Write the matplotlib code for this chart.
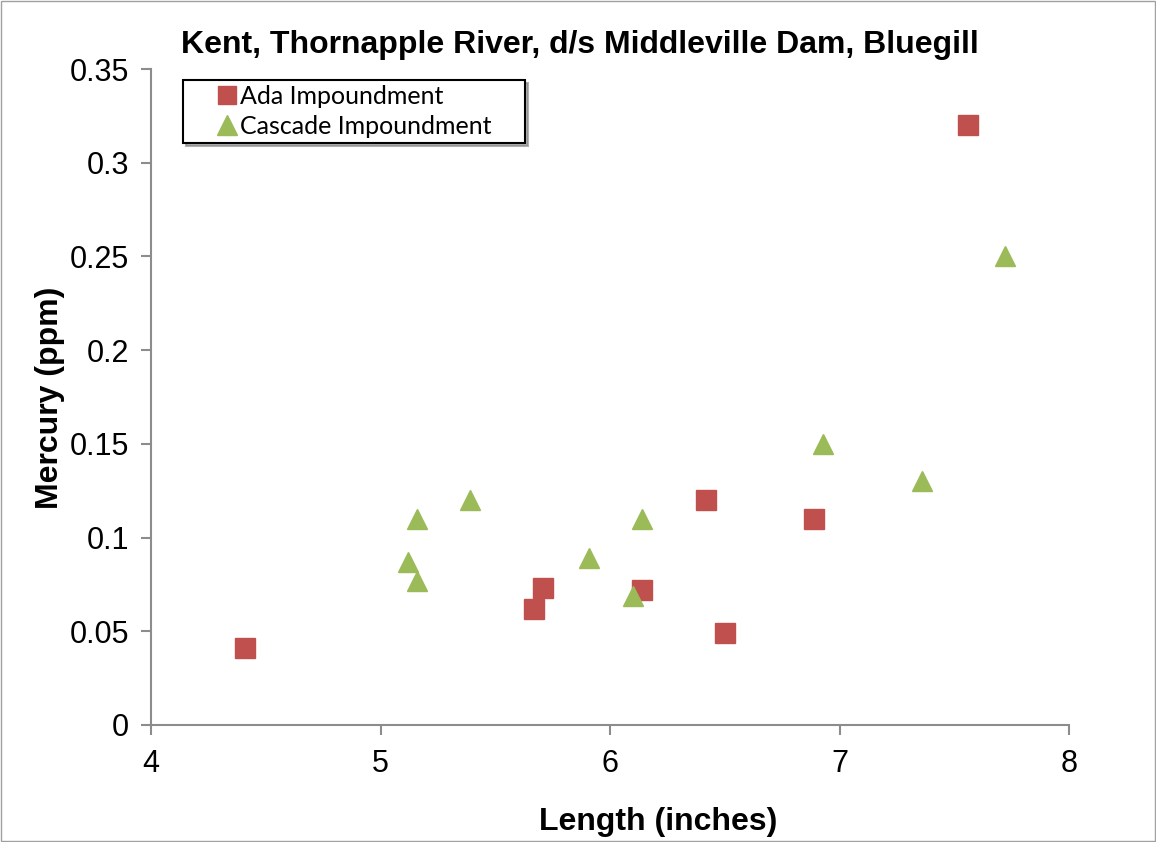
import matplotlib
matplotlib.use("Agg")
import matplotlib.pyplot as plt
from matplotlib.patches import Rectangle

# Bluegill mercury vs. length, two impoundments
ada_length = [4.41, 5.67, 5.71, 6.14, 6.42, 6.50, 6.89, 7.56]
ada_mercury = [0.041, 0.062, 0.073, 0.072, 0.120, 0.049, 0.110, 0.320]

cascade_length = [5.12, 5.16, 5.16, 5.39, 5.91, 6.10, 6.14, 6.93, 7.36, 7.72]
cascade_mercury = [0.087, 0.077, 0.110, 0.120, 0.089, 0.069, 0.110, 0.150, 0.130, 0.250]

x_ticks = [4, 5, 6, 7, 8]
y_ticks = [0, 0.05, 0.1, 0.15, 0.2, 0.25, 0.3, 0.35]
y_tick_labels = ["0", "0.05", "0.1", "0.15", "0.2", "0.25", "0.3", "0.35"]

plt.rcParams["font.family"] = ["Liberation Sans", "DejaVu Sans"]

W, H = 1156, 842
fig = plt.figure(figsize=(W / 100, H / 100), dpi=100)
ax_left, ax_right, ax_top, ax_bottom = 151, 1069, 69, 725
ax_w, ax_h = ax_right - ax_left, ax_bottom - ax_top
ax = fig.add_axes([ax_left / W, 1 - ax_bottom / H, ax_w / W, ax_h / H])

red = "#C0504D"
green = "#9BBB59"

ax.plot(ada_length, ada_mercury, linestyle="none", marker="s", markersize=14,
        color=red, markeredgecolor=red, label="Ada Impoundment", zorder=3)
ax.plot(cascade_length, cascade_mercury, linestyle="none", marker="^", markersize=15,
        color=green, markeredgecolor=green, label="Cascade Impoundment", zorder=3)

ax.set_xlim(4, 8)
ax.set_ylim(0, 0.35)
ax.set_xticks(x_ticks)
ax.set_yticks(y_ticks)
ax.set_yticklabels(y_tick_labels)

for side in ("top", "right"):
    ax.spines[side].set_visible(False)
for side in ("left", "bottom"):
    ax.spines[side].set_color("#8C8C8C")
    ax.spines[side].set_linewidth(1.5)

ax.tick_params(axis="both", direction="out", length=7, width=1.5, color="#8C8C8C",
               labelsize=22)
ax.tick_params(axis="y", pad=9)
ax.tick_params(axis="x", pad=10)

ax.set_xlabel("Length (inches)", fontsize=23, fontweight="bold")
ax.set_ylabel("Mercury (ppm)", fontsize=23, fontweight="bold")
ax.xaxis.set_label_coords((658 - ax_left) / ax_w, (ax_bottom - 822) / ax_h)
ax.yaxis.set_label_coords((50 - ax_left) / ax_w, (ax_bottom - 398) / ax_h)
ax.xaxis.label.set_va("center")
ax.yaxis.label.set_va("center")

fig.text(0.502, 1 - 45 / H, "Kent, Thornapple River, d/s Middleville Dam, Bluegill",
         ha="center", va="center", fontsize=23, fontweight="bold")

# legend box spans x 183..525, y 80..140 in pixels
lg_x0, lg_x1, lg_y0, lg_y1 = 183, 525, 80, 140
leg = ax.legend(loc="upper left", mode="expand",
                bbox_to_anchor=((lg_x0 - ax_left) / ax_w, (ax_bottom - lg_y1) / ax_h,
                                (lg_x1 - lg_x0) / ax_w, (lg_y1 - lg_y0) / ax_h),
                frameon=True, fancybox=False, shadow={"color": "#808080", "alpha": 0.6},
                prop={"family": ["Lato", "DejaVu Sans"], "size": 18},
                handlelength=3.1, handletextpad=-1.0, borderpad=0.2,
                labelspacing=0.28, borderaxespad=0, markerscale=0.95)
leg.get_frame().set_edgecolor("black")
leg.get_frame().set_linewidth(1.5)

# thin outer border
fig.patches.append(Rectangle((0.001, 0.001), 0.998, 0.998, transform=fig.transFigure,
                             fill=False, edgecolor="#A0A0A0", linewidth=1))

fig.savefig("out.png", dpi=100)
